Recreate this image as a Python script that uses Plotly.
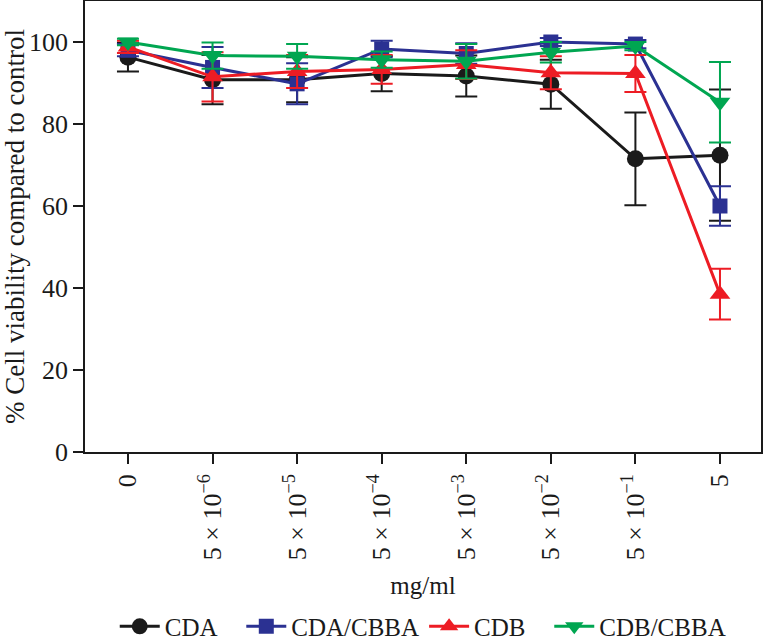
import plotly.graph_objects as go

categories = ["0", "5 × 10<sup>−6</sup>", "5 × 10<sup>−5</sup>", "5 × 10<sup>−4</sup>",
              "5 × 10<sup>−3</sup>", "5 × 10<sup>−2</sup>", "5 × 10<sup>−1</sup>", "5"]

cda = [96.3, 90.8, 90.8, 92.3, 91.7, 89.7, 71.5, 72.4]
cda_err = [3.5, 6.0, 5.5, 4.3, 5.0, 6.0, 11.3, 16.0]

cda_cbba = [98.0, 93.8, 89.8, 98.3, 97.2, 100.0, 99.5, 60.0]
cda_cbba_err = [1.5, 5.0, 5.0, 2.0, 2.5, 1.0, 1.0, 4.8]

cdb = [98.8, 91.5, 92.8, 93.3, 94.5, 92.5, 92.3, 38.5]
cdb_err = [1.5, 6.0, 4.0, 3.5, 3.5, 4.0, 4.5, 6.2]

cdb_cbba = [100.0, 96.7, 96.5, 95.7, 95.3, 97.5, 99.0, 85.3]
cdb_cbba_err = [0.8, 3.2, 3.0, 2.0, 4.2, 2.5, 1.0, 9.8]

series_names = ["CDA", "CDA/CBBA", "CDB", "CDB/CBBA"]

PAD = "\u00a0\u00a0\u00a0"
styles = [
    (PAD, "#1a1a1a", "circle", 17),
    ("", "#2b3192", "square", 15),
    (PAD, "#ed1c24", "triangle-up", 18),
    ("", "#00a651", "triangle-down", 18),
]
values = [(cda, cda_err), (cda_cbba, cda_cbba_err), (cdb, cdb_err), (cdb_cbba, cdb_cbba_err)]

FONT = "Liberation Serif"

fig = go.Figure()
for name, (vals, errs), (pad, color, symbol, size) in zip(series_names, values, styles):
    fig.add_trace(go.Scatter(
        x=categories, y=vals, name=name + pad, mode="lines+markers",
        line=dict(color=color, width=3),
        marker=dict(color=color, symbol=symbol, size=size),
        error_y=dict(type="data", array=errs, visible=True,
                     color=color, thickness=2, width=11),
    ))

fig.update_layout(
    width=764, height=644,
    margin=dict(l=85, r=3, t=1, b=192),
    plot_bgcolor="white", paper_bgcolor="white",
    font=dict(family=FONT, size=24, color="#1a1a1a"),
    showlegend=True,
    legend=dict(orientation="h", x=0.044, xanchor="left",
                yref="container", y=0.027, yanchor="middle",
                font=dict(family=FONT, size=25), itemwidth=40,
                tracegroupgap=0, traceorder="normal"),
)
fig.update_xaxes(
    type="category", range=[-0.508, 7.485], automargin=False,
    showline=True, linecolor="#1a1a1a", linewidth=1.5, mirror=True,
    ticks="outside", ticklen=10, tickwidth=1.5, tickcolor="#1a1a1a",
    tickangle=-90, tickfont=dict(family=FONT, size=26),
    showgrid=False, zeroline=False,
    title=dict(text="mg/ml", font=dict(family=FONT, size=25), standoff=17),
)
fig.update_yaxes(
    range=[0, 110.0], tickvals=[0, 20, 40, 60, 80, 100], automargin=False,
    showline=True, linecolor="#1a1a1a", linewidth=1.5, mirror=True,
    ticks="outside", ticklen=10, tickwidth=1.5, tickcolor="#1a1a1a",
    tickfont=dict(family=FONT, size=26),
    showgrid=False, zeroline=False,
    title=dict(text="% Cell viability compared to control", font=dict(family=FONT, size=27), standoff=6),
)

fig.write_html("out.html", config={"displayModeBar": False},
               post_script="document.body.style.margin='0';")
